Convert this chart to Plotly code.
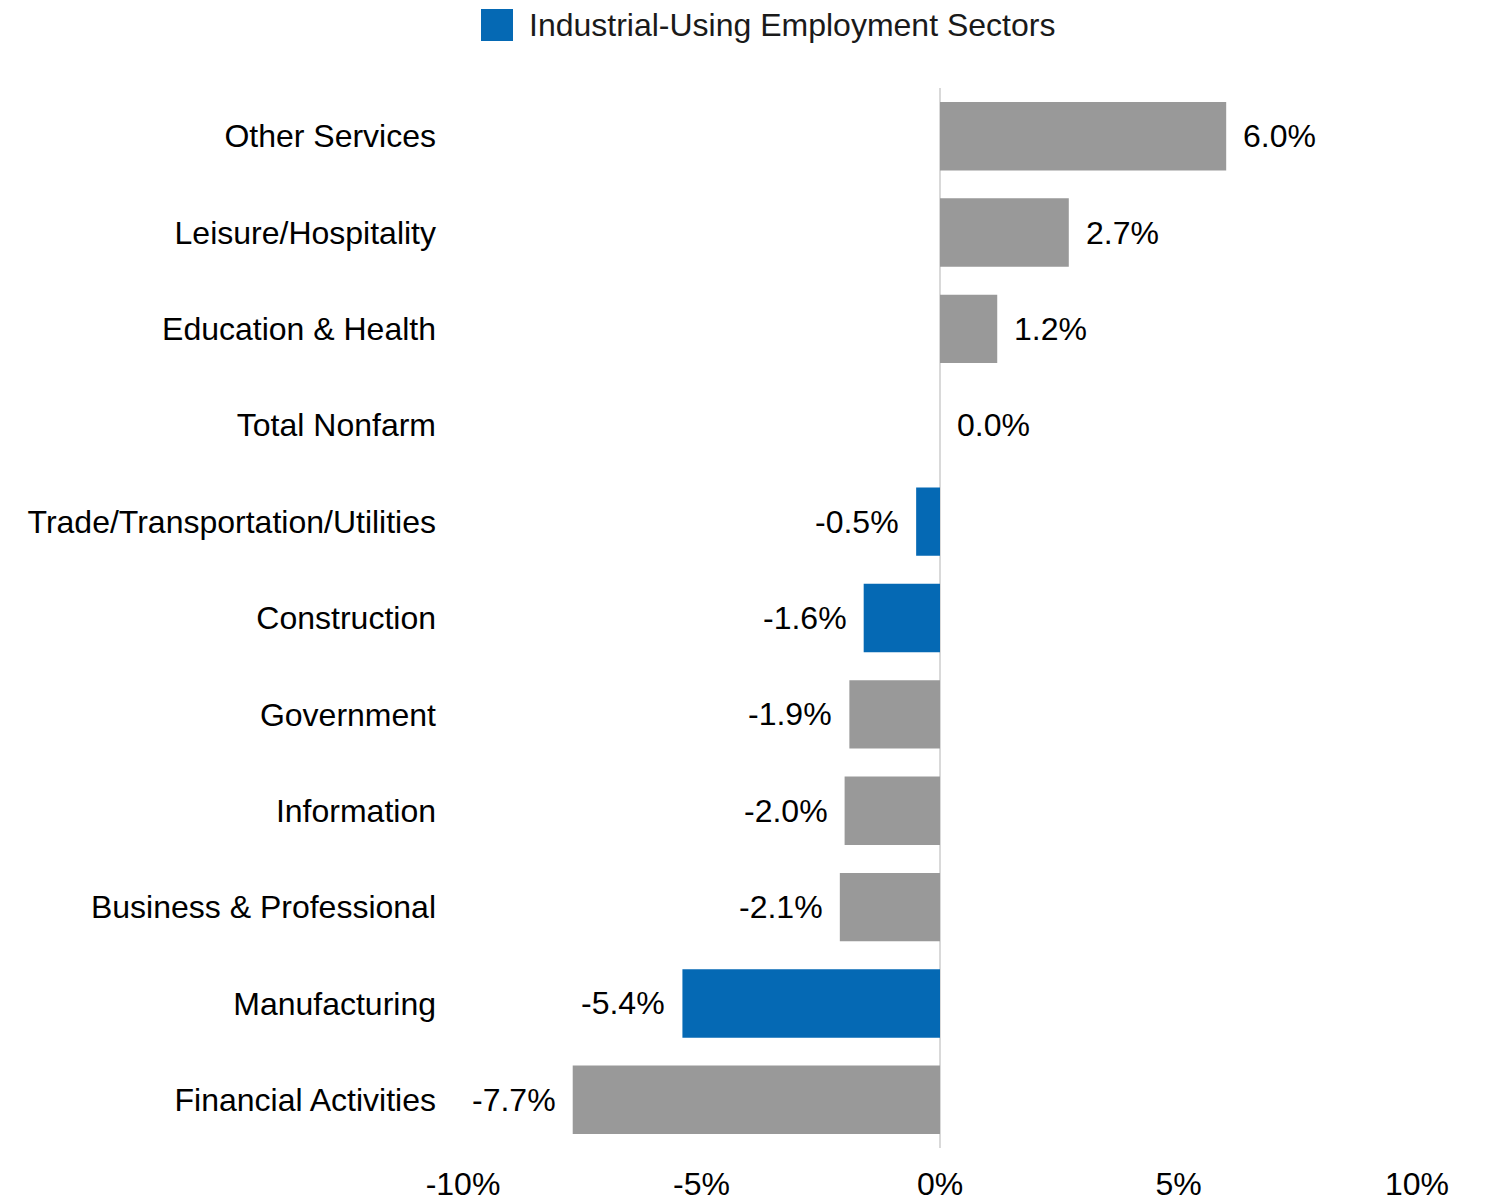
import plotly.graph_objects as go

categories = [
    "Other Services",
    "Leisure/Hospitality",
    "Education & Health",
    "Total Nonfarm",
    "Trade/Transportation/Utilities",
    "Construction",
    "Government",
    "Information",
    "Business & Professional",
    "Manufacturing",
    "Financial Activities",
]
values = [6.0, 2.7, 1.2, 0.0, -0.5, -1.6, -1.9, -2.0, -2.1, -5.4, -7.7]
industrial_using = [False, False, False, False, True, True, False, False, False, True, False]
tick_vals = [-10, -5, 0, 5, 10]
tick_text = ["-10%", "-5%", "0%", "5%", "10%"]
legend_label = "Industrial-Using Employment Sectors"

BLUE = "#0569b4"
GREY = "#999999"
FONT = "Arial, Liberation Sans, sans-serif"

colors = [BLUE if f else GREY for f in industrial_using]

fig = go.Figure()
fig.add_trace(go.Bar(
    x=values, y=categories, orientation="h",
    marker=dict(color=colors, line=dict(width=0)),
    width=0.71, showlegend=False, hoverinfo="x+y",
))

for c, v in zip(categories, values):
    fig.add_annotation(
        x=v, y=c, xref="x", yref="y",
        text=f"{v:.1f}%", showarrow=False,
        xanchor="left" if v >= 0 else "right",
        xshift=15 if v >= 0 else -15,
        font=dict(family=FONT, size=32, color="#000000"),
    )

# legend (square + label)
fig.add_shape(type="rect", xref="paper", yref="paper",
              x0=(481 - 463) / 954, x1=(513 - 463) / 954,
              y0=(1148 - 41) / 1060, y1=(1148 - 9) / 1060,
              fillcolor=BLUE, line=dict(width=0))
fig.add_annotation(xref="paper", yref="paper",
                   x=(527 - 463) / 954, y=(1148 - 25) / 1060,
                   xanchor="left", yanchor="middle", showarrow=False,
                   text=legend_label,
                   font=dict(family=FONT, size=32, color="#1a1a1a"))

fig.update_layout(
    width=1489, height=1203,
    margin=dict(l=463, r=72, t=88, b=55),
    paper_bgcolor="white", plot_bgcolor="white",
    font=dict(family=FONT, size=32, color="#000000"),
    showlegend=False,
)
fig.update_xaxes(
    range=[-10, 10], tickvals=tick_vals, ticktext=tick_text,
    showgrid=False, showline=False, ticks="",
    zeroline=True, zerolinecolor="#d9d9d9", zerolinewidth=2,
    tickfont=dict(family=FONT, size=32, color="#000000"),
    ticklabelstandoff=14, automargin=False,
)
fig.update_yaxes(
    categoryorder="array", categoryarray=categories, autorange="reversed",
    showgrid=False, showline=False, ticks="", zeroline=False,
    tickfont=dict(family=FONT, size=32, color="#000000"),
    ticklabelstandoff=26, automargin=False,
)

fig.write_html("out.html")
